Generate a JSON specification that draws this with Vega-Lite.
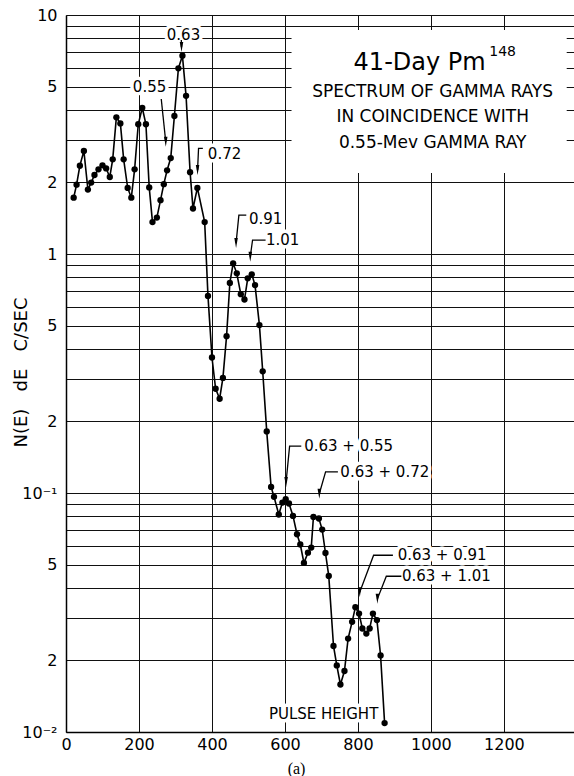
{
  "$schema": "https://vega.github.io/schema/vega-lite/v6.json",
  "width": 508,
  "height": 717,
  "autosize": {"type": "none"},
  "padding": {"left": 66, "top": 15, "right": 0, "bottom": 44},
  "background": "white",
  "view": {"stroke": null},
  "config": {"font": "DejaVu Sans"},
  "datasets": {
    "spectrum": [
      {"x": 21, "y": 1.72}, {"x": 29, "y": 1.95}, {"x": 38, "y": 2.34}, {"x": 49, "y": 2.70},
      {"x": 60, "y": 1.86}, {"x": 69, "y": 1.99}, {"x": 78, "y": 2.14}, {"x": 89, "y": 2.26},
      {"x": 100, "y": 2.35}, {"x": 110, "y": 2.28}, {"x": 120, "y": 2.10}, {"x": 128, "y": 2.49},
      {"x": 138, "y": 3.73}, {"x": 149, "y": 3.52}, {"x": 158, "y": 2.49}, {"x": 169, "y": 1.89},
      {"x": 179, "y": 1.72}, {"x": 188, "y": 2.26}, {"x": 198, "y": 3.49}, {"x": 209, "y": 4.09},
      {"x": 219, "y": 3.49}, {"x": 228, "y": 1.90}, {"x": 237, "y": 1.36}, {"x": 249, "y": 1.42},
      {"x": 259, "y": 1.68}, {"x": 268, "y": 1.96}, {"x": 277, "y": 2.24}, {"x": 287, "y": 2.52},
      {"x": 297, "y": 3.78}, {"x": 308, "y": 5.98}, {"x": 319, "y": 6.76}, {"x": 329, "y": 4.59},
      {"x": 340, "y": 2.20}, {"x": 348, "y": 1.55}, {"x": 360, "y": 1.89}, {"x": 380, "y": 1.36},
      {"x": 389, "y": 0.668}, {"x": 400, "y": 0.369}, {"x": 410, "y": 0.273}, {"x": 421, "y": 0.248},
      {"x": 430, "y": 0.303}, {"x": 440, "y": 0.453}, {"x": 449, "y": 0.757}, {"x": 458, "y": 0.914},
      {"x": 468, "y": 0.830}, {"x": 479, "y": 0.679}, {"x": 489, "y": 0.645}, {"x": 498, "y": 0.791},
      {"x": 509, "y": 0.822}, {"x": 518, "y": 0.741}, {"x": 530, "y": 0.504}, {"x": 539, "y": 0.323},
      {"x": 550, "y": 0.181}, {"x": 562, "y": 0.106}, {"x": 570, "y": 0.0964}, {"x": 583, "y": 0.0813},
      {"x": 593, "y": 0.0912}, {"x": 602, "y": 0.0942}, {"x": 611, "y": 0.0904}, {"x": 622, "y": 0.0802},
      {"x": 633, "y": 0.0672}, {"x": 642, "y": 0.0609}, {"x": 652, "y": 0.0510}, {"x": 663, "y": 0.0563},
      {"x": 672, "y": 0.0591}, {"x": 678, "y": 0.0794}, {"x": 693, "y": 0.0782}, {"x": 702, "y": 0.0703},
      {"x": 711, "y": 0.0561}, {"x": 720, "y": 0.0450}, {"x": 733, "y": 0.0229}, {"x": 742, "y": 0.0190},
      {"x": 752, "y": 0.0158}, {"x": 763, "y": 0.0180}, {"x": 773, "y": 0.0246}, {"x": 784, "y": 0.0289},
      {"x": 793, "y": 0.0333}, {"x": 803, "y": 0.0313}, {"x": 812, "y": 0.0271}, {"x": 823, "y": 0.0258},
      {"x": 832, "y": 0.0271}, {"x": 841, "y": 0.0313}, {"x": 852, "y": 0.0294}, {"x": 862, "y": 0.0209},
      {"x": 873, "y": 0.0109}
    ],
    "labels": [
      {"label": "0.63", "x": 322, "y": 8.25},
      {"label": "0.55", "x": 229, "y": 4.98},
      {"label": "0.72", "x": 434.5, "y": 2.62},
      {"label": "0.91", "x": 547, "y": 1.40},
      {"label": "1.01", "x": 593.5, "y": 1.144},
      {"label": "0.63 + 0.55", "x": 774.4, "y": 0.157},
      {"label": "0.63 + 0.72", "x": 873.6, "y": 0.1225},
      {"label": "0.63 + 0.91", "x": 1030.7, "y": 0.0549},
      {"label": "0.63 + 1.01", "x": 1042.2, "y": 0.04485},
      {"label": "PULSE HEIGHT", "x": 705.9, "y": 0.01186}
    ],
    "arrows": [
      {"arrow": "a1", "seq": 0, "x": 316, "y": 7.86}, {"arrow": "a1", "seq": 1, "x": 316.5, "y": 7.35},
      {"arrow": "a2", "seq": 0, "x": 261, "y": 4.45}, {"arrow": "a2", "seq": 1, "x": 273.3, "y": 2.95},
      {"arrow": "a3", "seq": 0, "x": 375, "y": 2.767}, {"arrow": "a3", "seq": 1, "x": 363.2, "y": 2.767}, {"arrow": "a3", "seq": 2, "x": 360.5, "y": 2.245},
      {"arrow": "a4", "seq": 0, "x": 494, "y": 1.455}, {"arrow": "a4", "seq": 1, "x": 473.7, "y": 1.455}, {"arrow": "a4", "seq": 2, "x": 466, "y": 1.111},
      {"arrow": "a5", "seq": 0, "x": 546.9, "y": 1.144}, {"arrow": "a5", "seq": 1, "x": 511.2, "y": 1.144}, {"arrow": "a5", "seq": 2, "x": 504.9, "y": 0.973},
      {"arrow": "a6", "seq": 0, "x": 644.7, "y": 0.157}, {"arrow": "a6", "seq": 1, "x": 612.7, "y": 0.157}, {"arrow": "a6", "seq": 2, "x": 603.1, "y": 0.1113},
      {"arrow": "a7", "seq": 0, "x": 745.1, "y": 0.1225}, {"arrow": "a7", "seq": 1, "x": 711.3, "y": 0.1225}, {"arrow": "a7", "seq": 2, "x": 694.1, "y": 0.0993},
      {"arrow": "a8", "seq": 0, "x": 895.8, "y": 0.0549}, {"arrow": "a8", "seq": 1, "x": 842.9, "y": 0.0549}, {"arrow": "a8", "seq": 2, "x": 804.8, "y": 0.03845},
      {"arrow": "a9", "seq": 0, "x": 918.9, "y": 0.04485}, {"arrow": "a9", "seq": 1, "x": 877.7, "y": 0.04485}, {"arrow": "a9", "seq": 2, "x": 853.3, "y": 0.03606}
    ],
    "heads": [
      {"x": 316.5, "y": 7.35}, {"x": 273.3, "y": 2.95}, {"x": 360.5, "y": 2.245},
      {"x": 466, "y": 1.111}, {"x": 504.9, "y": 0.973}, {"x": 603.1, "y": 0.1113},
      {"x": 694.1, "y": 0.0993}, {"x": 804.8, "y": 0.03845}, {"x": 853.3, "y": 0.03606}
    ],
    "box": [{"x": 618, "xEnd": 1372, "y": 2.18, "yEnd": 8.65}],
    "titleLines": [
      {"label": "SPECTRUM OF GAMMA RAYS", "x": 1004.7, "y": 4.76},
      {"label": "IN COINCIDENCE WITH", "x": 1004.7, "y": 3.73},
      {"label": "0.55-Mev GAMMA RAY", "x": 1004.7, "y": 2.92}
    ],
    "mainTitle": [{"label": "41-Day Pm", "x": 969, "y": 6.30}],
    "sup": [{"label": "148", "x": 1196.5, "y": 7.03}]
  },
  "layer": [
    {
      "data": {"name": "box"},
      "mark": {"type": "rect", "fill": "white"},
      "encoding": {
        "x": {
          "field": "x", "type": "quantitative",
          "scale": {"domain": [0, 1392], "nice": false, "zero": false},
          "axis": {
            "values": [0, 200, 400, 600, 800, 1000, 1200],
            "format": "d",
            "grid": true, "ticks": false,
            "domainColor": "black", "domainWidth": 1.5,
            "gridColor": "#111111", "gridWidth": 1, "gridOpacity": 1,
            "labelFontSize": 16, "labelColor": "black", "labelPadding": 4, "labelFlush": false,
            "title": "(a)", "titleFont": "Liberation Serif", "titleFontWeight": "normal", "titleFontSize": 16,
            "titleColor": "black", "titleX": 230, "titleY": 36, "titleBaseline": "middle", "titleAlign": "center"
          }
        },
        "x2": {"field": "xEnd"},
        "y": {
          "field": "y", "type": "quantitative",
          "scale": {"type": "log", "domain": [0.01, 10], "nice": false},
          "axis": {
            "values": [0.01, 0.02, 0.03, 0.04, 0.05, 0.06, 0.07, 0.08, 0.09, 0.1, 0.2, 0.3, 0.4, 0.5, 0.6, 0.7, 0.8, 0.9, 1, 2, 3, 4, 5, 6, 7, 8, 9, 10],
            "grid": true, "ticks": false,
            "domainColor": "black", "domainWidth": 1.5,
            "gridColor": "#111111", "gridWidth": 1, "gridOpacity": 1,
            "labelExpr": "datum.value == 10 ? '10' : datum.value == 1 ? '1' : datum.value == 0.1 ? '10⁻¹' : datum.value == 0.01 ? '10⁻²' : (datum.value == 5 || datum.value == 0.5 || datum.value == 0.05) ? '5' : (datum.value == 2 || datum.value == 0.2 || datum.value == 0.02) ? '2' : ''",
            "labelFontSize": 16, "labelColor": "black", "labelPadding": 9, "labelOverlap": false, "labelBound": false,
            "title": "N(E)\u00a0\u00a0\u00a0dE\u00a0\u00a0\u00a0C/SEC", "titleFontSize": 18, "titleFontWeight": "normal", "titleColor": "black",
            "titleX": -45, "titleY": 357, "titleAngle": -90, "titleBaseline": "middle", "titleAlign": "center"
          }
        },
        "y2": {"field": "yEnd"}
      }
    },
    {
      "data": {"name": "labels"},
      "mark": {"type": "text", "fontSize": 15, "color": "white", "stroke": "white", "strokeWidth": 7, "strokeJoin": "round", "align": "center", "baseline": "middle"},
      "encoding": {
        "x": {"field": "x", "type": "quantitative"},
        "y": {"field": "y", "type": "quantitative"},
        "text": {"field": "label"}
      }
    },
    {
      "data": {"name": "spectrum"},
      "mark": {"type": "line", "color": "black", "strokeWidth": 1.6},
      "encoding": {
        "x": {"field": "x", "type": "quantitative"},
        "y": {"field": "y", "type": "quantitative"}
      }
    },
    {
      "data": {"name": "spectrum"},
      "mark": {"type": "point", "filled": true, "size": 40, "color": "black", "opacity": 1},
      "encoding": {
        "x": {"field": "x", "type": "quantitative"},
        "y": {"field": "y", "type": "quantitative"}
      }
    },
    {
      "data": {"name": "arrows"},
      "mark": {"type": "line", "color": "black", "strokeWidth": 1.3},
      "encoding": {
        "x": {"field": "x", "type": "quantitative"},
        "y": {"field": "y", "type": "quantitative"},
        "detail": {"field": "arrow"},
        "order": {"field": "seq", "type": "quantitative"}
      }
    },
    {
      "data": {"name": "heads"},
      "mark": {"type": "point", "filled": true, "shape": "M-0.35,-1L0.35,-1L0,1Z", "size": 100, "color": "black", "opacity": 1},
      "encoding": {
        "x": {"field": "x", "type": "quantitative"},
        "y": {"field": "y", "type": "quantitative"}
      }
    },
    {
      "data": {"name": "labels"},
      "mark": {"type": "text", "fontSize": 15, "color": "black", "align": "center", "baseline": "middle"},
      "encoding": {
        "x": {"field": "x", "type": "quantitative"},
        "y": {"field": "y", "type": "quantitative"},
        "text": {"field": "label"}
      }
    },
    {
      "data": {"name": "titleLines"},
      "mark": {"type": "text", "fontSize": 17, "color": "black", "align": "center", "baseline": "middle"},
      "encoding": {
        "x": {"field": "x", "type": "quantitative"},
        "y": {"field": "y", "type": "quantitative"},
        "text": {"field": "label"}
      }
    },
    {
      "data": {"name": "mainTitle"},
      "mark": {"type": "text", "fontSize": 24, "color": "black", "align": "center", "baseline": "middle"},
      "encoding": {
        "x": {"field": "x", "type": "quantitative"},
        "y": {"field": "y", "type": "quantitative"},
        "text": {"field": "label"}
      }
    },
    {
      "data": {"name": "sup"},
      "mark": {"type": "text", "fontSize": 14, "color": "black", "align": "center", "baseline": "middle"},
      "encoding": {
        "x": {"field": "x", "type": "quantitative"},
        "y": {"field": "y", "type": "quantitative"},
        "text": {"field": "label"}
      }
    }
  ]
}
